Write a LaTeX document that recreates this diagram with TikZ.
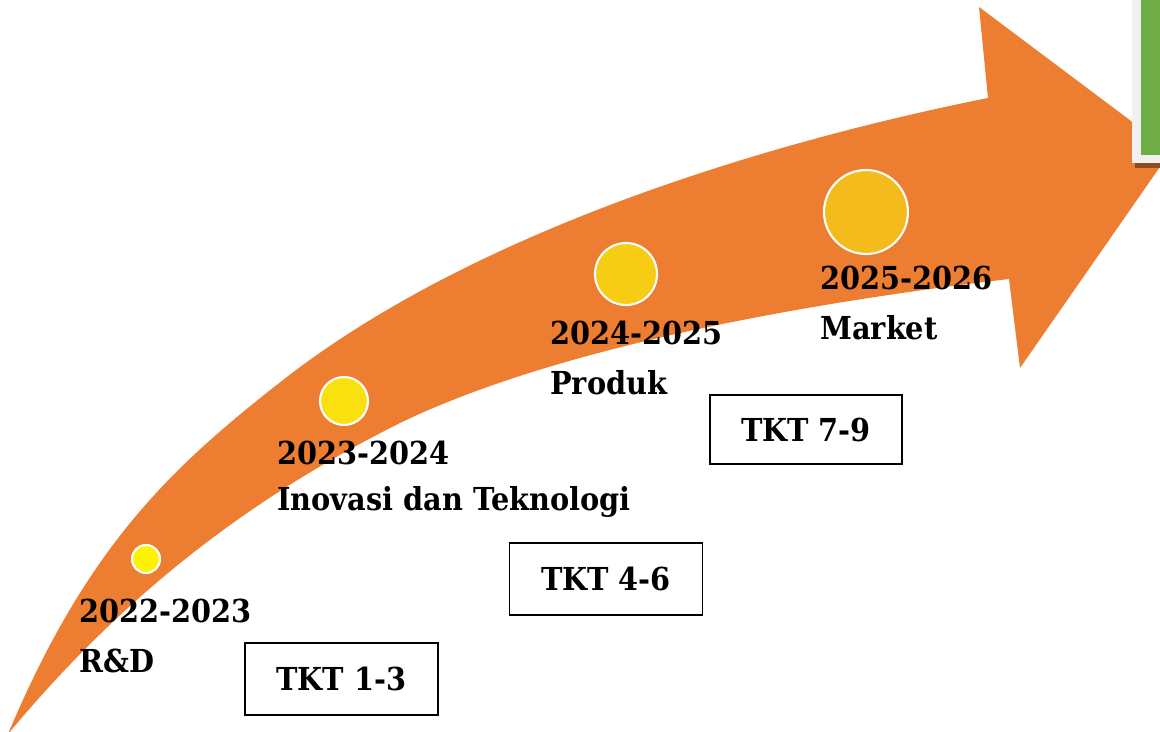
\documentclass[tikz,border=0pt]{standalone}
\usepackage{fontspec}
\setmainfont{DejaVu Serif}
\newfontfamily\labelfont[FakeStretch = 0.91]{DejaVu Serif}
\definecolor{arroworange}{HTML}{ED7D31}
\definecolor{dotA}{HTML}{FFF200}
\definecolor{dotB}{HTML}{F9E00E}
\definecolor{dotC}{HTML}{F6CC15}
\definecolor{dotD}{HTML}{F3BC1C}
\definecolor{boxgreen}{HTML}{70AD47}
\definecolor{framegrey}{HTML}{F0F0F0}
\tikzset{
	yr/.style = {font = \labelfont\bfseries\fontsize{18}{21}\selectfont, inner sep = 0pt, anchor = base west},
	tkt/.style = {draw = black, line width = 1.1pt, font = \labelfont\bfseries\fontsize{18}{21}\selectfont, minimum width = 3.86cm, minimum height = 1.45cm},
	dot/.style = {circle, draw = white, line width = 1.2pt, inner sep = 0pt, fill = #1},
}
\begin{document}
\begin{tikzpicture}[x = 0.02cm, y = -0.02cm]
	\useasboundingbox (0, 0) rectangle (1160, 732);
	\begin{scope}
	\clip (0, 0) rectangle (1160, 732);
	% the big curved arrow
	\fill [arroworange] (8, 734) .. controls (88, 544) and (173, 466) .. (283, 380)
		.. controls (483, 224) and (788, 138) .. (988, 98)
		-- (979, 7) -- (1171, 151) -- (1020, 368) -- (1009, 279)
		.. controls (839, 299) and (570, 341) .. (400, 423)
		.. controls (240, 503) and (118, 602) .. (8, 734) -- cycle;
	% green box in the corner
	\fill [black, opacity = 0.4] (1135, -5) rectangle (1170, 168);
	\fill [framegrey] (1132, -5) rectangle (1170, 163);
	\fill [boxgreen] (1141, -5) rectangle (1170, 155);
	\end{scope}
	% milestones
	\node [dot = dotA, minimum size = 0.56cm] (d1) at (146, 559) {};
	\node [dot = dotB, minimum size = 0.96cm] (d2) at (344, 401) {};
	\node [dot = dotC, minimum size = 1.24cm] (d3) at (626, 274) {};
	\node [dot = dotD, minimum size = 1.68cm] (d4) at (866, 212) {};
	\node [yr] (y1) at (79, 623) {2022-2023};
	\node [yr] (l1) at ([yshift = -1cm] y1.base west) {R\&D};
	\node [yr] (y2) at (277, 465) {2023-2024};
	\node [yr] (l2) at ([yshift = -0.92cm] y2.base west) {Inovasi dan Teknologi};
	\node [yr] (y3) at (550, 345) {2024-2025};
	\node [yr] (l3) at ([yshift = -1cm] y3.base west) {Produk};
	\node [yr] (y4) at (820, 290) {2025-2026};
	\node [yr] (l4) at ([yshift = -1cm] y4.base west) {Market};
	% TKT levels
	\node [tkt] (t1) at (341.5, 679) {TKT 1-3};
	\node [tkt] (t2) at (606, 579) {TKT 4-6};
	\node [tkt, minimum height = 1.38cm, minimum width = 3.84cm] (t3) at (806, 429.5) {TKT 7-9};
\end{tikzpicture}
\end{document}
